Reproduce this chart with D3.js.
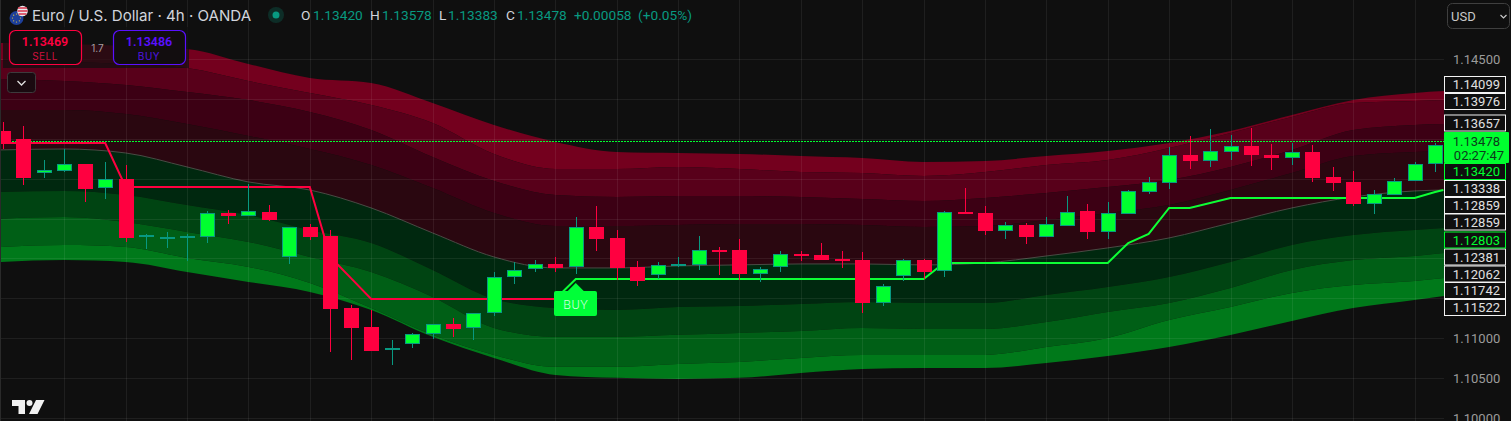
<!DOCTYPE html>
<html><head><meta charset="utf-8">
<style>html,body{margin:0;padding:0;background:#0f0f0f;overflow:hidden}svg{display:block}text{font-family:Inter,"Noto Sans",sans-serif}</style>
<script src="https://cdn.jsdelivr.net/npm/d3@7"></script>
</head><body><svg id="c" width="1511" height="421"></svg>
<script>
const opens=[1.13597,1.13498,1.13071,1.13096,1.13184,1.12884,1.12997,1.12269,1.12244,1.12257,1.12269,1.12570,1.12532,1.12583,1.12019,1.12394,1.12282,1.11380,1.11142,1.10853,1.10929,1.11054,1.11179,1.11129,1.11317,1.11769,1.11869,1.11931,1.11894,1.12394,1.12257,1.11894,1.11793,1.11906,1.11918,1.12107,1.12107,1.11806,1.11894,1.12057,1.12044,1.11994,1.11981,1.11442,1.11781,1.11981,1.11843,1.12583,1.12570,1.12344,1.12419,1.12269,1.12407,1.12595,1.12332,1.12557,1.12833,1.12946,1.13297,1.13222,1.13335,1.13410,1.13297,1.13259,1.13335,1.13021,1.12959,1.12683,1.12796,1.12971,1.13184];
const highs=[1.13710,1.13660,1.13234,1.13373,1.13184,1.13209,1.13172,1.12307,1.12332,1.12307,1.12595,1.12608,1.12934,1.12670,1.12394,1.12432,1.12357,1.11418,1.11355,1.10979,1.11066,1.11179,1.11254,1.11317,1.11831,1.11956,1.11981,1.12019,1.12519,1.12658,1.12357,1.11968,1.11956,1.12019,1.12282,1.12144,1.12244,1.11894,1.12094,1.12094,1.12194,1.12094,1.12082,1.11681,1.11994,1.11994,1.12595,1.12884,1.12658,1.12457,1.12444,1.12519,1.12783,1.12683,1.12708,1.12858,1.13021,1.13398,1.13535,1.13623,1.13548,1.13635,1.13435,1.13448,1.13423,1.13147,1.13096,1.12858,1.13009,1.13209,1.13448];
const lows=[1.13373,1.12921,1.13009,1.13084,1.12708,1.12746,1.12207,1.12119,1.12132,1.11968,1.12194,1.12432,1.12532,1.12469,1.11931,1.12232,1.10828,1.10728,1.10841,1.10665,1.10878,1.10992,1.11017,1.10979,1.11279,1.11681,1.11831,1.11831,1.11806,1.12094,1.11731,1.11655,1.11743,1.11894,1.11856,1.11793,1.11731,1.11706,1.11831,1.11968,1.11981,1.11881,1.11317,1.11405,1.11718,1.11743,1.11769,1.12557,1.12294,1.12244,1.12182,1.12269,1.12407,1.12244,1.12244,1.12557,1.12808,1.12871,1.13122,1.13147,1.13234,1.13159,1.13109,1.13172,1.12959,1.12846,1.12658,1.12557,1.12796,1.12971,1.13084];
const closes=[1.13447,1.13009,1.13109,1.13184,1.12871,1.12997,1.12257,1.12294,1.12269,1.12282,1.12570,1.12532,1.12595,1.12482,1.12394,1.12269,1.11368,1.11129,1.10841,1.10878,1.11054,1.11179,1.11117,1.11317,1.11769,1.11856,1.11931,1.11881,1.12394,1.12244,1.11881,1.11718,1.11918,1.11931,1.12107,1.12094,1.11806,1.11869,1.12057,1.12032,1.11981,1.11968,1.11442,1.11655,1.11981,1.11831,1.12583,1.12570,1.12344,1.12419,1.12269,1.12432,1.12583,1.12332,1.12570,1.12846,1.12959,1.13297,1.13222,1.13347,1.13410,1.13297,1.13259,1.13335,1.13009,1.12946,1.12683,1.12808,1.12971,1.13184,1.13423];

const bandIndex=[-0.15,3,6,9,12,15,18,21,24,27,30,33,36,39,42,45,48,51,54,57,60,63,66,69,70.5];
const band0=[1.14700,1.14688,1.14663,1.14625,1.14437,1.14262,1.14199,1.13948,1.13673,1.13460,1.13335,1.13322,1.13310,1.13284,1.13259,1.13209,1.13222,1.13284,1.13347,1.13447,1.13597,1.13798,1.13986,1.14074,1.14099];
const band1=[1.14487,1.14462,1.14437,1.14387,1.14224,1.14074,1.13923,1.13698,1.13310,1.13122,1.13122,1.13147,1.13122,1.13084,1.13071,1.13034,1.13084,1.13172,1.13234,1.13385,1.13572,1.13773,1.13948,1.13973,1.13986];
const band2=[1.14249,1.14224,1.14174,1.14086,1.13986,1.13836,1.13610,1.13272,1.12971,1.12796,1.12771,1.12783,1.12783,1.12771,1.12746,1.12721,1.12758,1.12821,1.12896,1.12984,1.13147,1.13360,1.13610,1.13673,1.13685];
const band3=[1.13861,1.13861,1.13811,1.13685,1.13535,1.13372,1.13172,1.12883,1.12570,1.12407,1.12407,1.12420,1.12432,1.12432,1.12420,1.12395,1.12407,1.12482,1.12570,1.12670,1.12858,1.13071,1.13284,1.13335,1.13347];
const band4=[1.13360,1.13372,1.13322,1.13147,1.12959,1.12858,1.12633,1.12320,1.12019,1.11881,1.11881,1.11906,1.11919,1.11931,1.11931,1.11919,1.11944,1.12031,1.12132,1.12257,1.12445,1.12633,1.12771,1.12846,1.12858];
const band5=[1.12833,1.12846,1.12796,1.12670,1.12545,1.12357,1.12194,1.11856,1.11492,1.11380,1.11355,1.11392,1.11405,1.11430,1.11455,1.11442,1.11442,1.11543,1.11643,1.11768,1.11956,1.12169,1.12294,1.12357,1.12382];
const band6=[1.12498,1.12520,1.12457,1.12332,1.12207,1.12019,1.11831,1.11518,1.11129,1.11017,1.11017,1.11042,1.11067,1.11092,1.11129,1.11117,1.11117,1.11204,1.11330,1.11442,1.11630,1.11856,1.11981,1.12031,1.12069];
const band7=[1.12144,1.12169,1.12144,1.12006,1.11894,1.11693,1.11380,1.11042,1.10791,1.10641,1.10641,1.10678,1.10703,1.10753,1.10791,1.10791,1.10791,1.10891,1.11004,1.11229,1.11392,1.11568,1.11668,1.11718,1.11756];
const band8=[1.11956,1.11981,1.11956,1.11831,1.11706,1.11580,1.11355,1.11017,1.10753,1.10540,1.10503,1.10490,1.10503,1.10565,1.10615,1.10628,1.10628,1.10690,1.10778,1.10891,1.11041,1.11217,1.11380,1.11480,1.11530];

const redIndex=[-1,5,6,15,16,17,18,27];
const redTrend=[1.13447,1.13447,1.12896,1.12896,1.12019,1.11756,1.11492,1.11492];
const greenIndex=[27,28,45,46,54,55,56,57,58,60,69,70,70.4];
const greenTrend=[1.11492,1.11743,1.11743,1.11944,1.11944,1.12194,1.12307,1.12633,1.12633,1.12758,1.12758,1.12833,1.12858];

const priceTicks=[1.145,1.14,1.135,1.13,1.125,1.12,1.115,1.11,1.105,1.10];
const axisLabels=[1.145,1.11,1.105,1.10];
const gridIndex=d3.range(3,70,3);
const levelLabels=["1.14099","1.13976","1.13657","1.13338","1.12859","1.12859","1.12381","1.12062","1.11742","1.11522"];
const greenLabels=["1.13420","1.12803"];
const lastPrice=1.13478;

const W=1444,H=421;
const bandColors=["#74001e","#58001a","#3c0014","#2a0710","#00280f","#004412","#005f16","#00791a"];
const upFill="#00ff2f",upEdge="#089981",down="#ff0040",trendGreen="#0dff35",teal="#089981";
const NUM='Roboto,"Noto Sans",sans-serif';
const x=d3.scaleLinear().domain([0,70]).range([2.9,1435.1]);
const y=d3.scaleLinear().domain([1.10,1.145]).range([418,59]);
const svg=d3.select("#c");
svg.append("rect").attr("width",1511).attr("height",421).attr("fill","#0f0f0f");
svg.append("defs").append("clipPath").attr("id","pane").append("rect").attr("x",1).attr("y",0).attr("width",W-1).attr("height",H);
const pane=svg.append("g").attr("clip-path","url(#pane)");

const bands=[band0,band1,band2,band3,band4,band5,band6,band7,band8];
const area=d3.area().x(d=>x(d.i)).y0(d=>y(d.a)).y1(d=>y(d.b)).curve(d3.curveMonotoneX);
bandColors.forEach((c,k)=>{
  pane.append("path").attr("fill",c).attr("d",area(bandIndex.map((i,j)=>({i,a:bands[k][j],b:bands[k+1][j]}))));
});
const lineGen=d3.line().x(d=>x(d.i)).y(d=>y(d.v));
pane.append("path").attr("fill","none").attr("stroke","#4a4a44").attr("stroke-width",1)
 .attr("d",d3.line().x(d=>x(d.i)).y(d=>y(d.v)).curve(d3.curveMonotoneX)(bandIndex.map((i,j)=>({i,v:band4[j]}))));

priceTicks.forEach(p=>pane.append("line").attr("x1",0).attr("x2",W).attr("y1",Math.round(y(p))+.5).attr("y2",Math.round(y(p))+.5).attr("stroke","rgba(255,255,255,0.07)"));
gridIndex.forEach(i=>pane.append("line").attr("x1",Math.round(x(i))+.5).attr("x2",Math.round(x(i))+.5).attr("y1",0).attr("y2",H).attr("stroke","rgba(255,255,255,0.07)"));
svg.append("line").attr("x1",.5).attr("x2",.5).attr("y1",0).attr("y2",H).attr("stroke","#2a2a2a");

pane.append("path").attr("fill","none").attr("stroke",down).attr("stroke-width",2).attr("d",lineGen(redIndex.map((i,j)=>({i,v:redTrend[j]}))));
pane.append("path").attr("fill","none").attr("stroke",trendGreen).attr("stroke-width",2).attr("d",lineGen(greenIndex.map((i,j)=>({i,v:greenTrend[j]}))));

pane.append("line").attr("x1",0).attr("x2",W).attr("y1",Math.round(y(lastPrice))+.5).attr("y2",Math.round(y(lastPrice))+.5)
 .attr("stroke","#00ff2f").attr("stroke-width",1).attr("stroke-dasharray","2 1").attr("shape-rendering","crispEdges");

const candles=opens.map((o,i)=>({i,o,h:highs[i],l:lows[i],c:closes[i]}));
const g=pane.selectAll("g.k").data(candles).join("g").attr("class","k").attr("shape-rendering","crispEdges");
g.append("line").attr("x1",d=>Math.round(x(d.i))+.5).attr("x2",d=>Math.round(x(d.i))+.5)
 .attr("y1",d=>y(d.h)).attr("y2",d=>y(d.l)).attr("stroke",d=>d.c>=d.o?upEdge:down).attr("stroke-width",1);
g.append("rect").each(function(d){
  const up=d.c>=d.o,t=Math.round(y(Math.max(d.o,d.c))),b=Math.round(y(Math.min(d.o,d.c))),cx=Math.round(x(d.i));
  const r=d3.select(this);
  if(up) r.attr("x",cx-6.5).attr("y",t+.5).attr("width",14).attr("height",Math.max(1,b-t-1)).attr("fill",upFill).attr("stroke",upEdge).attr("stroke-width",1);
  else r.attr("x",cx-7).attr("y",t).attr("width",15).attr("height",Math.max(2,b-t)).attr("fill",down);
});

// BUY label
const bx=x(28);
svg.append("path").attr("fill","#00ff38").attr("d",`M${bx-9} 292 L${bx} 283 L${bx+9} 292 Z`);
svg.append("rect").attr("x",554).attr("y",291).attr("width",43).attr("height",25).attr("rx",2).attr("fill","#00ff38");
svg.append("text").attr("x",bx).attr("y",308.5).attr("text-anchor","middle").attr("font-size",12.5).attr("letter-spacing",.6).attr("font-weight",300).style("font-family",NUM).attr("fill","#d8ffe0").text("BUY");

// Header
svg.append("text").attr("x",32).attr("y",21).attr("font-size",15.1).attr("fill","#d1d4dc").text("Euro / U.S. Dollar · 4h · OANDA");
svg.append("circle").attr("cx",16.5).attr("cy",18).attr("r",7).attr("fill","#1d3f9a");
svg.selectAll("circle.star").data(d3.range(8)).join("circle").attr("class","star")
 .attr("cx",d=>16.5+4*Math.cos(d*Math.PI/4)).attr("cy",d=>18+4*Math.sin(d*Math.PI/4)).attr("r",.6).attr("fill","#e8c93a");
svg.append("circle").attr("cx",22.5).attr("cy",11).attr("r",5.3).attr("fill","#e9e9ee");
svg.append("path").attr("d","M18 8h9M17.6 11h10M18.5 14h8").attr("stroke","#d8324a").attr("stroke-width",1.3);
svg.append("circle").attr("cx",276).attr("cy",15).attr("r",8).attr("fill","rgba(8,153,129,0.22)");
svg.append("circle").attr("cx",276).attr("cy",15).attr("r",3.5).attr("fill","#089981");
[["O",301,"#d1d4dc"],["1.13420",313,teal],["H",370,"#d1d4dc"],["1.13578",382,teal],["L",439,"#d1d4dc"],["1.13383",448,teal],["C",506,"#d1d4dc"],["1.13478",517,teal],["+0.00058",574,teal],["(+0.05%)",638,teal]]
 .forEach(([t,px,c])=>svg.append("text").attr("x",px).attr("y",20).attr("font-size",13.7).style("font-family",NUM).attr("fill",c).text(t));

// trade panel
svg.append("rect").attr("x",3).attr("y",27).attr("width",186).attr("height",41).attr("fill","rgba(15,15,15,0.72)");
[[9,"1.13469","SELL",down,"#d0103e"],[113,"1.13486","BUY","#5a10ff","#5014e0"]].forEach(([bxx,v,l,c,c2])=>{
  svg.append("rect").attr("x",bxx+.5).attr("y",30.5).attr("width",72).attr("height",34).attr("rx",6).attr("fill","#120d0f").attr("stroke",c).attr("stroke-width",1.2);
  svg.append("text").attr("x",bxx+36).attr("y",46).attr("text-anchor","middle").attr("font-size",12.5).attr("font-weight",600).style("font-family",NUM).attr("fill",c).text(v);
  svg.append("text").attr("x",bxx+36).attr("y",60).attr("text-anchor","middle").attr("font-size",10).attr("letter-spacing",.5).attr("fill",c2).text(l);
});
svg.append("text").attr("x",97.5).attr("y",52).attr("text-anchor","middle").attr("font-size",10).attr("fill","#a8a0a2").text("1.7");
svg.append("rect").attr("x",7.5).attr("y",72.5).attr("width",28).attr("height",20).attr("rx",3).attr("fill","#1a0a10").attr("stroke","#3d3a3c");
svg.append("path").attr("d","M17.5 81 L21.5 85 L25.5 81").attr("fill","none").attr("stroke","#e0e0e0").attr("stroke-width",1.3);

// TradingView mark
svg.append("path").attr("fill","#f2f2f2").attr("d","M12 400h13v14h-6.5v-8H12zM36 400h8.5l-7 14H29z");
svg.append("circle").attr("cx",29.5).attr("cy",403).attr("r",3).attr("fill","#f2f2f2");

// price axis
const axis=d3.axisRight(y).tickValues(axisLabels).tickSize(0).tickPadding(0).tickFormat(d3.format(".5f"));
const ag=svg.append("g").attr("transform","translate(1453,0)").call(axis);
ag.select(".domain").remove();
ag.selectAll("text").attr("font-size",13).attr("fill","#9b9b9b").style("font-family",NUM);

// level tags
const levelCenters=[84.5,101.5,123,188.5,205.5,222,257,274,290.5,307.5];
const greenCenters=[171.5,240];
function tag(t,cy,edge,col){
  svg.append("rect").attr("x",1444.5).attr("y",cy-8).attr("width",61).attr("height",16).attr("fill","#0f0f0f").attr("stroke",edge);
  svg.append("text").attr("x",1500).attr("y",cy+4.5).attr("text-anchor","end").attr("font-size",13).style("font-family",NUM).attr("fill",col).text(t);
}
levelLabels.forEach((t,i)=>tag(t,levelCenters[i],"#f4f4f4","#e0e0e0"));
greenLabels.forEach((t,i)=>tag(t,greenCenters[i],upFill,upFill));
svg.append("rect").attr("x",1444).attr("y",132).attr("width",65).attr("height",31).attr("rx",1).attr("fill","#00ff2f");
svg.append("text").attr("x",1500).attr("y",145.5).attr("text-anchor","end").attr("font-size",13).style("font-family",NUM).attr("fill","#0c3a1c").text(lastPrice.toFixed(5));
svg.append("text").attr("x",1504).attr("y",159.5).attr("text-anchor","end").attr("font-size",13).style("font-family",NUM).attr("fill","#0c3a1c").text("02:27:47");

// currency
svg.append("rect").attr("x",1447.5).attr("y",3.5).attr("width",62).attr("height",25).attr("rx",5).attr("fill","#0f0f0f").attr("stroke","#3f3f3f");
svg.append("text").attr("x",1451).attr("y",20.5).attr("font-size",13).style("font-family",NUM).attr("fill","#c9c9c9").text("USD");
svg.append("path").attr("d","M1500.5 15 L1503.5 18 L1506.5 15").attr("fill","none").attr("stroke","#c9c9c9").attr("stroke-width",1.2);
</script></body></html>
